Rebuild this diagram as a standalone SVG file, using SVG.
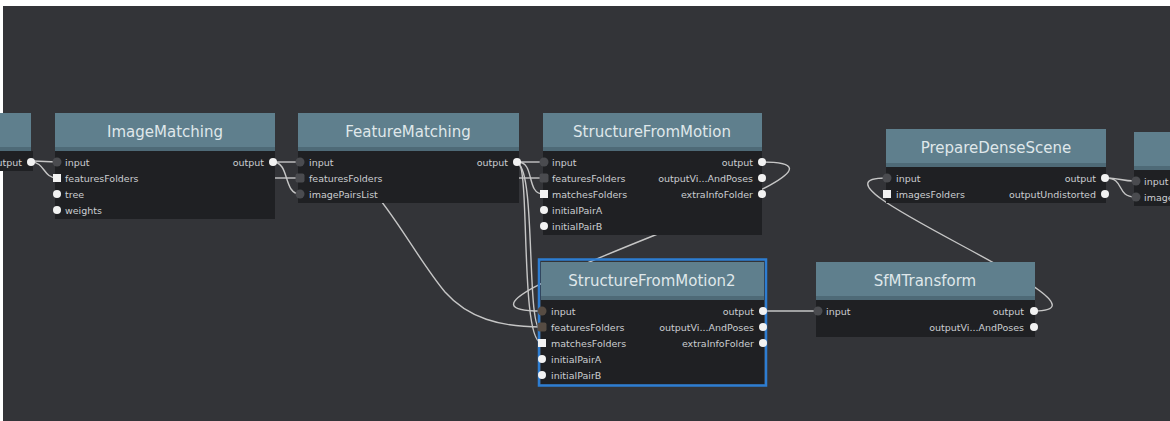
<svg xmlns="http://www.w3.org/2000/svg" width="1170" height="421" viewBox="0 0 1170 421">
<style>
.hdr{fill:#5f7f8d}
.hdrb{fill:#4e6a77}
.body{fill:#1f2023}
.title{font-family:"DejaVu Sans","Liberation Sans",sans-serif;font-size:15px;fill:#dfe7ea;text-anchor:middle}
.lbl{font-family:"DejaVu Sans","Liberation Sans",sans-serif;font-size:9.5px;fill:#cbced1}
.r{text-anchor:end}
.pd{fill:#4a4b4f}
.pb{fill:#574c43}
.pw{fill:#f2f2f2}
.edge{fill:none;stroke:#c6c6c6;stroke-width:1.4}
</style>
<rect x="0" y="0" width="1170" height="421" fill="#ffffff"/>
<rect x="3" y="6" width="1167" height="415" fill="#333438"/>

<g id="connectors">
  <path class="edge" d="M33,161 L57,162"/>
  <path class="edge" d="M31,162 C45,162 43,178 57,178"/>
  <path class="edge" d="M270,162 L300,162"/>
  <path class="edge" d="M270,178 L300,178"/>
  <path class="edge" d="M273,162 C290,162 283,194 300,194"/>
  <path class="edge" d="M515,162 L543,162"/>
  <path class="edge" d="M515,178 L543,178"/>
  <path class="edge" d="M518,162 C535,162 526,194 543,194"/>
  <path class="edge" d="M518,162 C530,166 520,338 541,343"/>
  <path class="edge" d="M518,164 C536,172 526,330 541,330"/>
  <path class="edge" d="M372,190 C395,215 420,262 445,292 C468,318 500,327 541,327"/>
  <path class="edge" d="M762,162 C912,162 391,311 541,311"/>
  <path class="edge" d="M763,311 L817,311"/>
  <path class="edge" d="M1034,311 C1134,311 786,178 886,178"/>
  <path class="edge" d="M1106,178 C1120,178 1121,181 1135,181"/>
  <path class="edge" d="M1106,178 C1125,178 1116,197 1135,197"/>
</g>

<g id="node-left">
  <rect class="hdr" x="-190" y="113" width="221" height="38"/>
  <rect class="hdrb" x="-190" y="147" width="221" height="4"/>
  <rect class="body" x="-190" y="151" width="223" height="20"/>
  <text class="lbl r" x="22" y="165.5">output</text>
  <circle class="pw" cx="31" cy="162" r="4"/>
</g>

<g id="node-imagematching">
  <rect class="hdr" x="55" y="113" width="220" height="38"/>
  <rect class="hdrb" x="55" y="147" width="220" height="4"/>
  <rect class="body" x="55" y="151" width="220" height="68"/>
  <text class="title" x="165" y="137">ImageMatching</text>
  <circle class="pd" cx="57" cy="162" r="4.5"/>
  <rect class="pw" x="53" y="174" width="8" height="8"/>
  <circle class="pw" cx="57" cy="194" r="4"/>
  <circle class="pw" cx="57" cy="210" r="4"/>
  <text class="lbl" x="65" y="165.5">input</text>
  <text class="lbl" x="65" y="181.5">featuresFolders</text>
  <text class="lbl" x="65" y="197.5">tree</text>
  <text class="lbl" x="65" y="213.5">weights</text>
  <text class="lbl r" x="264" y="165.5">output</text>
  <circle class="pw" cx="273" cy="162" r="4"/>
</g>

<g id="node-featurematching">
  <rect class="hdr" x="298" y="113" width="221" height="38"/>
  <rect class="hdrb" x="298" y="147" width="221" height="4"/>
  <rect class="body" x="298" y="151" width="221" height="52"/>
  <text class="title" x="408" y="137">FeatureMatching</text>
  <circle class="pd" cx="300" cy="162" r="4.5"/>
  <rect class="pd" x="295.5" y="173.5" width="9" height="9" rx="2"/>
  <circle class="pd" cx="300" cy="194" r="4.5"/>
  <text class="lbl" x="309" y="165.5">input</text>
  <text class="lbl" x="309" y="181.5">featuresFolders</text>
  <text class="lbl" x="309" y="197.5">imagePairsList</text>
  <text class="lbl r" x="508" y="165.5">output</text>
  <circle class="pw" cx="517" cy="162" r="4"/>
</g>

<g id="node-structurefrommotion">
  <rect class="hdr" x="543" y="113" width="219" height="38"/>
  <rect class="hdrb" x="543" y="147" width="219" height="4"/>
  <rect class="body" x="543" y="151" width="219" height="84"/>
  <text class="title" x="652" y="137">StructureFromMotion</text>
  <circle class="pd" cx="544" cy="162" r="4.5"/>
  <rect class="pd" x="539.5" y="173.5" width="9" height="9" rx="2"/>
  <rect class="pw" x="540" y="190" width="8" height="8"/>
  <circle class="pw" cx="544" cy="210" r="4"/>
  <circle class="pw" cx="544" cy="226" r="4"/>
  <text class="lbl" x="552" y="165.5">input</text>
  <text class="lbl" x="552" y="181.5">featuresFolders</text>
  <text class="lbl" x="552" y="197.5">matchesFolders</text>
  <text class="lbl" x="552" y="213.5">initialPairA</text>
  <text class="lbl" x="552" y="229.5">initialPairB</text>
  <text class="lbl r" x="753" y="165.5">output</text>
  <text class="lbl r" x="753" y="181.5">outputVi...AndPoses</text>
  <text class="lbl r" x="753" y="197.5">extraInfoFolder</text>
  <circle class="pw" cx="762" cy="162" r="4"/>
  <circle class="pw" cx="762" cy="178" r="4"/>
  <circle class="pw" cx="762" cy="194" r="4"/>
</g>

<g id="node-preparedensescene">
  <rect class="hdr" x="886" y="129" width="220" height="38"/>
  <rect class="hdrb" x="886" y="163" width="220" height="4"/>
  <rect class="body" x="886" y="167" width="220" height="36"/>
  <text class="title" x="996" y="153">PrepareDenseScene</text>
  <circle class="pd" cx="887" cy="178" r="4.5"/>
  <rect class="pw" x="883" y="190" width="8" height="8"/>
  <text class="lbl" x="896" y="181.5">input</text>
  <text class="lbl" x="896" y="197.5">imagesFolders</text>
  <text class="lbl r" x="1096" y="181.5">output</text>
  <text class="lbl r" x="1096" y="197.5">outputUndistorted</text>
  <circle class="pw" cx="1105" cy="178" r="4"/>
  <circle class="pw" cx="1105" cy="194" r="4"/>
</g>

<g id="node-right">
  <rect class="hdr" x="1134" y="132" width="220" height="36"/>
  <rect class="hdrb" x="1134" y="166" width="220" height="4"/>
  <rect class="body" x="1134" y="170" width="220" height="36"/>
  <circle class="pd" cx="1136" cy="181" r="4.5"/>
  <circle class="pd" cx="1136" cy="197" r="4.5"/>
  <text class="lbl" x="1144" y="184.5">input</text>
  <text class="lbl" x="1144" y="200.5">imagesFolders</text>
</g>

<g id="node-structurefrommotion2">
  <rect x="539" y="259.5" width="227" height="126" fill="none" stroke="#2d7dd2" stroke-width="2.5"/>
  <rect class="hdr" x="541" y="262" width="223" height="37"/>
  <rect class="hdrb" x="541" y="296" width="223" height="4"/>
  <rect class="body" x="541" y="300" width="223" height="84"/>
  <text class="title" x="652" y="286">StructureFromMotion2</text>
  <circle class="pb" cx="542" cy="311" r="4.5"/>
  <rect class="pb" x="537.5" y="322.5" width="9" height="9" rx="2"/>
  <rect class="pw" x="538" y="339" width="8" height="8"/>
  <circle class="pw" cx="542" cy="359" r="4"/>
  <circle class="pw" cx="542" cy="375" r="4"/>
  <text class="lbl" x="551" y="314.5">input</text>
  <text class="lbl" x="551" y="330.5">featuresFolders</text>
  <text class="lbl" x="551" y="346.5">matchesFolders</text>
  <text class="lbl" x="551" y="362.5">initialPairA</text>
  <text class="lbl" x="551" y="378.5">initialPairB</text>
  <text class="lbl r" x="754" y="314.5">output</text>
  <text class="lbl r" x="754" y="330.5">outputVi...AndPoses</text>
  <text class="lbl r" x="754" y="346.5">extraInfoFolder</text>
  <circle class="pw" cx="763" cy="311" r="4"/>
  <circle class="pw" cx="763" cy="327" r="4"/>
  <circle class="pw" cx="763" cy="343" r="4"/>
</g>

<g id="node-sfmtransform">
  <rect class="hdr" x="816" y="262" width="219" height="38"/>
  <rect class="hdrb" x="816" y="296" width="219" height="4"/>
  <rect class="body" x="816" y="300" width="219" height="37"/>
  <text class="title" x="925" y="286">SfMTransform</text>
  <circle class="pd" cx="818" cy="311" r="4.5"/>
  <text class="lbl" x="826" y="314.5">input</text>
  <text class="lbl r" x="1024" y="314.5">output</text>
  <text class="lbl r" x="1024" y="330.5">outputVi...AndPoses</text>
  <circle class="pw" cx="1034" cy="311" r="4"/>
  <circle class="pw" cx="1034" cy="327" r="4"/>
</g>
</svg>
